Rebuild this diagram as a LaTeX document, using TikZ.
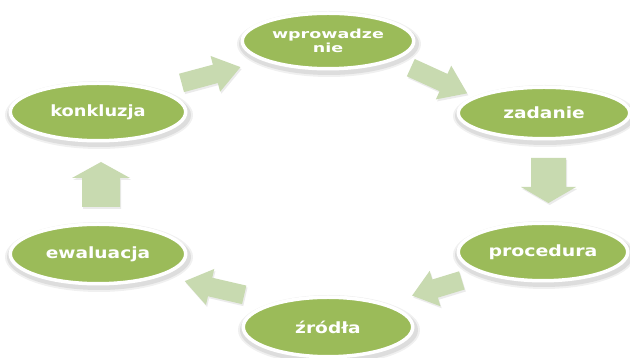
\documentclass[tikz,border=0pt]{standalone}
\usepackage{fontspec}
\setmainfont{DejaVu Sans}
\usepackage{graphicx}
\usetikzlibrary{shapes.geometric}
\definecolor{olive}{HTML}{9BBB59}
\definecolor{lightolive}{HTML}{C8DAB0}
\tikzset{
  bubble/.style={ellipse, fill=olive, draw=white, line width=3.5pt, text=white,
    font=\bfseries\fontsize{15.5}{15.5}\selectfont, inner sep=0pt, align=center},
  smalltext/.style={font=\bfseries\fontsize{12.5}{14}\selectfont},
  arrowfill/.style={fill=lightolive},
  shadowfill/.style={fill=black, opacity=0.10},
}
% x y angle length shafthalf headhalf headlen
\newcommand\blockarrow[7]{%
  \begin{scope}[shift={(#1+1.2,#2-2)}, rotate=#3]
    \fill[shadowfill, opacity=0.08] (-#4/2,-#5) -- (#4/2-#7,-#5) -- (#4/2-#7,-#6) -- (#4/2,0) -- (#4/2-#7,#6) -- (#4/2-#7,#5) -- (-#4/2,#5) -- cycle;
  \end{scope}
  \begin{scope}[shift={(#1,#2)}, rotate=#3]
    \fill[arrowfill] (-#4/2,-#5) -- (#4/2-#7,-#5) -- (#4/2-#7,-#6) -- (#4/2,0) -- (#4/2-#7,#6) -- (#4/2-#7,#5) -- (-#4/2,#5) -- cycle;
  \end{scope}}
\newcommand\bshadow[4]{%
  \fill[shadowfill, opacity=0.06] (#1+1,#2-3) ellipse [x radius=#3+8, y radius=#4+7];
  \fill[shadowfill, opacity=0.08] (#1+1,#2-3) ellipse [x radius=#3+6, y radius=#4+5];
}
\begin{document}
\begin{tikzpicture}[x=1pt,y=1pt]
\fill[white] (0,0) rectangle (630,358);
\useasboundingbox (0,0) rectangle (630,358);
% shadows
\bshadow{328}{317}{84}{26}
\bshadow{544}{245}{84}{24}
\bshadow{543}{106}{83}{27}
\bshadow{328}{31}{83}{28}
\bshadow{98}{104}{86}{28}
\bshadow{98}{246}{86}{27}
% bubbles
\node[bubble, smalltext, minimum width=171.5pt, minimum height=55.5pt] (w) at (328,317)
  {\scalebox{1.4}[1]{wprowadze}\\\scalebox{1.4}[1]{nie}};
\node[bubble, minimum width=171.5pt, minimum height=51.5pt] (z) at (544,245) {\scalebox{1.2}[1]{zadanie}};
\node[bubble, minimum width=169.5pt, minimum height=57.5pt] (p) at (543,106) {\scalebox{1.22}[1]{procedura}};
\node[bubble, minimum width=169.5pt, minimum height=59.5pt] (s) at (328,31) {\scalebox{1.2}[1]{źródła}};
\node[bubble, minimum width=175.5pt, minimum height=59.5pt] (e) at (98,104) {\scalebox{1.2}[1]{ewaluacja}};
\node[bubble, minimum width=175.5pt, minimum height=57.5pt] (k) at (98,246) {\scalebox{1.15}[1]{konkluzja}};
% block arrows
\blockarrow{211}{283}{15}{61}{9.5}{18.5}{26}
\blockarrow{439}{277.5}{-24.5}{62}{9.5}{18.5}{26}
\blockarrow{548.5}{177.5}{-90}{45}{17.5}{27.5}{16}
\blockarrow{437}{70}{197}{52}{9.5}{18.5}{24}
\blockarrow{214.5}{70}{167}{61}{9.5}{18.5}{26}
\blockarrow{101}{173.5}{90}{45}{19}{29}{16}
\end{tikzpicture}
\end{document}
